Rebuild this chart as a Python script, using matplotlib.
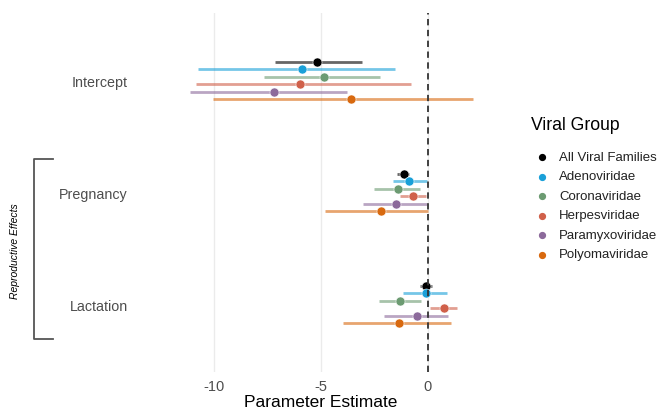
import matplotlib
matplotlib.use("Agg")
import matplotlib.pyplot as plt
from matplotlib.lines import Line2D

plt.rcParams['font.family'] = ['Liberation Sans', 'DejaVu Sans']

terms = ["Intercept", "Pregnancy", "Lactation"]
groups = ["All Viral Families", "Adenoviridae", "Coronaviridae",
          "Herpesviridae", "Paramyxoviridae", "Polyomaviridae"]
colors = ["#000000", "#1AA0D8", "#6C9B72", "#D0604A", "#8C6A9B", "#D8690F"]

# estimates [group][term]
estimate = [
    [-5.17, -1.12, -0.09],
    [-5.87, -0.87, -0.09],
    [-4.88, -1.42, -1.31],
    [-6.00, -0.72, 0.75],
    [-7.21, -1.50, -0.50],
    [-3.58, -2.21, -1.34],
]
lower = [
    [-7.15, -1.46, -0.37],
    [-10.76, -1.62, -1.18],
    [-7.66, -2.51, -2.28],
    [-10.84, -1.31, 0.09],
    [-11.10, -3.02, -2.04],
    [-10.05, -4.81, -3.96],
]
upper = [
    [-3.10, -0.87, 0.17],
    [-1.54, -0.06, 0.90],
    [-2.26, -0.37, -0.34],
    [-0.79, -0.11, 1.37],
    [-3.77, -0.06, 0.95],
    [2.12, 0.01, 1.06],
]
xticks = [-10, -5, 0]

W, H = 665, 414
fig = plt.figure(figsize=(W / 100, H / 100), dpi=100)
left_px, right_px, top_px, bot_px = 132, 483, 14, 373
ax = fig.add_axes([left_px / W, 1 - bot_px / H, (right_px - left_px) / W, (bot_px - top_px) / H])

dodge = 0.0667
n = len(groups)
for gi, g in enumerate(groups):
    off = (gi - (n - 1) / 2) * dodge
    ys = [ti + off for ti in range(len(terms))]
    for ti in range(len(terms)):
        ax.plot([lower[gi][ti], upper[gi][ti]], [ys[ti], ys[ti]], color=colors[gi],
                lw=2.0, alpha=0.6, solid_capstyle='butt', zorder=2)
    ax.plot(estimate[gi], ys, 'o', color=colors[gi], ms=6.5, mec='white', mew=0.4, zorder=3)

ax.axvline(0, color='#333333', ls=(0, (3.5, 2.5)), lw=1.3, zorder=4)

ax.set_xlim(-10 - (214 - left_px) / 21.4, (right_px - 428) / 21.4)
ax.set_ylim(len(terms) - 1 + 0.6, -0.6)
ax.set_xticks(xticks)
ax.set_xticklabels([str(x) for x in xticks])
ax.set_yticks(range(len(terms)))
ax.set_yticklabels(terms)
ax.tick_params(axis='both', length=0, colors='#4D4D4D', labelsize=10.3)
ax.tick_params(axis='x', labelsize=10.5, pad=5)
ax.tick_params(axis='y', pad=3)
ax.grid(axis='x', color='#EBEBEB', lw=1.0)
ax.set_axisbelow(True)
for s in ax.spines.values():
    s.set_visible(False)
ax.set_xlabel("Parameter Estimate", fontsize=12.5, color='black')
ax.xaxis.set_label_coords((320.5 - left_px) / (right_px - left_px), -(403 - bot_px) / (bot_px - top_px))
ax.xaxis.label.set_va('center')

# bracket
bx, bx2 = 34 / W, 53 / W
by1, by2 = 1 - 160 / H, 1 - 340 / H
fig.add_artist(Line2D([bx2, bx, bx, bx2], [by1, by1, by2, by2], color='#555555', lw=1.3,
                      transform=fig.transFigure))
fig.text(15 / W, 1 - 251 / H, "Reproductive Effects", rotation=90, style='italic',
         fontsize=7.5, ha='center', va='center', color='black')

# legend (drawn manually for exact placement)
fig.text(531 / W, 1 - 125 / H, "Viral Group", fontsize=12.7, ha='left', va='center', color='black')
leg_y0, leg_dy = 158, 19.5
for gi, (g, c) in enumerate(zip(groups, colors)):
    yy = 1 - (leg_y0 + gi * leg_dy) / H
    fig.add_artist(Line2D([542 / W], [yy], marker='o', ls='', color=c, ms=4.2,
                          transform=fig.transFigure))
    fig.text(559 / W, yy, g, fontsize=9.5, ha='left', va='center', color='#222222')

fig.savefig("out.png", dpi=100)
